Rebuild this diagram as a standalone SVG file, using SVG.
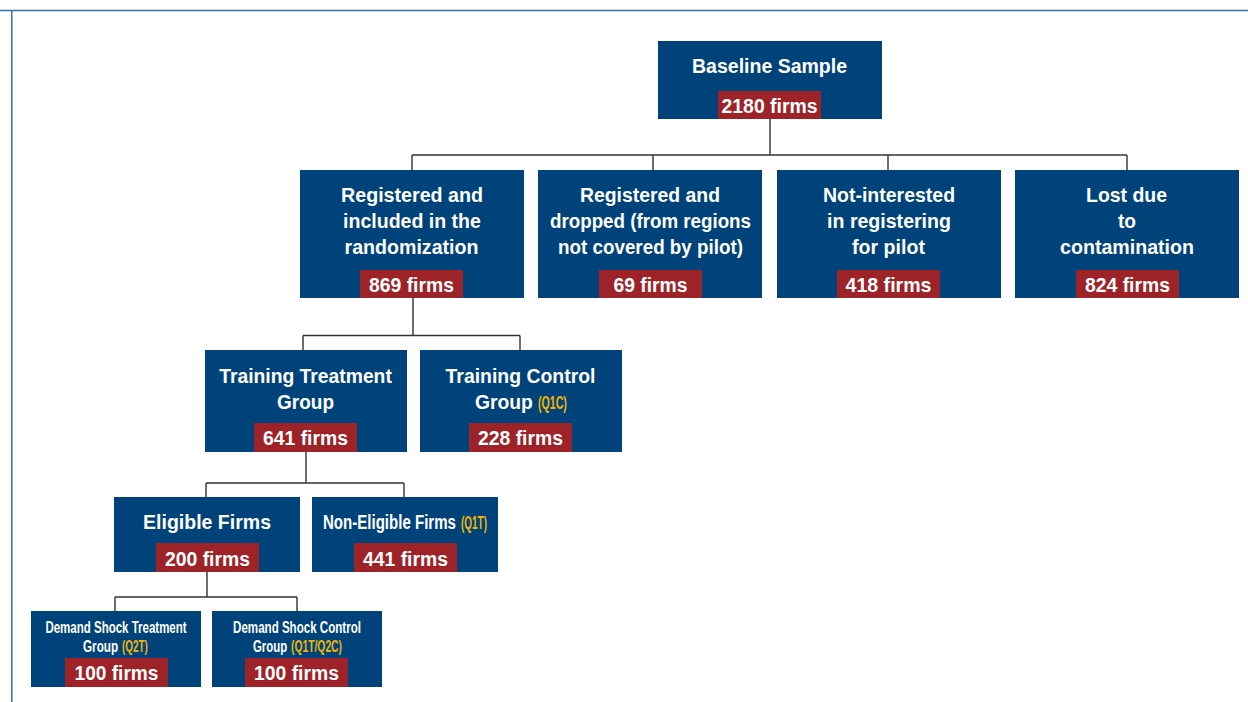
<svg xmlns="http://www.w3.org/2000/svg" width="1248" height="702" viewBox="0 0 1248 702">
<style>
.box{fill:#00437a}
.num{fill:#9d2329}
.t{font-family:"Liberation Sans",Arial,sans-serif;font-weight:bold;fill:#ffffff;font-size:21px}
.m{text-anchor:middle}
.s{font-size:17px}
.y{font-family:"Liberation Sans",Arial,sans-serif;font-weight:bold;fill:#f2b600;font-size:18px}
.ys{font-family:"Liberation Sans",Arial,sans-serif;font-weight:bold;fill:#f2b600;font-size:16px}
.c{fill:none;stroke:#333333;stroke-width:1.4}
.frame{fill:none;stroke:#3a6ea5;stroke-width:1.5}
</style>
<rect width="1248" height="702" fill="#ffffff"/>
<path class="frame" d="M0 10.5 H1248 M11.8 10 V702"/>
<g id="connectors">
<path class="c" d="M770 119 V155 M412 155 H1127 M412 155 V170 M653 155 V170 M888 155 V170 M1127 155 V170"/>
<path class="c" d="M413 298 V335.5 M303 335.5 H520 M303 335.5 V350 M520 335.5 V350"/>
<path class="c" d="M306 452 V483 M206 483 H404 M206 483 V497 M404 483 V497"/>
<path class="c" d="M207 572 V597 M115 597 H297 M115 597 V611 M297 597 V611"/>
</g>
<g id="baseline">
<rect class="box" x="658" y="41" width="224" height="78"/>
<rect class="num" x="718" y="91" width="103" height="28"/>
<text class="t m" transform="translate(769.5 73) scale(0.929 1)">Baseline Sample</text>
<text class="t m" transform="translate(769.5 113) scale(0.924 1)">2180 firms</text>
</g>
<g id="registered-included">
<rect class="box" x="300" y="170" width="224" height="128"/>
<rect class="num" x="360" y="270" width="103" height="28"/>
<text class="t m" transform="translate(412 202) scale(0.936 1)">Registered and</text>
<text class="t m" transform="translate(412 228) scale(0.931 1)">included in the</text>
<text class="t m" transform="translate(411.5 254) scale(0.934 1)">randomization</text>
<text class="t m" transform="translate(411.5 292) scale(0.922 1)">869 firms</text>
</g>
<g id="registered-dropped">
<rect class="box" x="538" y="170" width="224" height="128"/>
<rect class="num" x="599" y="270" width="103" height="28"/>
<text class="t m" transform="translate(650 202) scale(0.923 1)">Registered and</text>
<text class="t m" transform="translate(650.5 228) scale(0.893 1)">dropped (from regions</text>
<text class="t m" transform="translate(650.5 254) scale(0.896 1)">not covered by pilot)</text>
<text class="t m" transform="translate(650.5 292) scale(0.919 1)">69 firms</text>
</g>
<g id="not-interested">
<rect class="box" x="777" y="170" width="224" height="128"/>
<rect class="num" x="837" y="270" width="103" height="28"/>
<text class="t m" transform="translate(889 202) scale(0.928 1)">Not-interested</text>
<text class="t m" transform="translate(889 228) scale(0.932 1)">in registering</text>
<text class="t m" transform="translate(888.5 254) scale(0.934 1)">for pilot</text>
<text class="t m" transform="translate(888.5 292) scale(0.933 1)">418 firms</text>
</g>
<g id="lost-contamination">
<rect class="box" x="1015" y="170" width="224" height="128"/>
<rect class="num" x="1076" y="270" width="103" height="28"/>
<text class="t m" transform="translate(1126.5 202) scale(0.926 1)">Lost due</text>
<text class="t m" transform="translate(1127 228) scale(0.91 1)">to</text>
<text class="t m" transform="translate(1127 254) scale(0.934 1)">contamination</text>
<text class="t m" transform="translate(1127.5 292) scale(0.922 1)">824 firms</text>
</g>
<g id="training-treatment">
<rect class="box" x="205" y="350" width="202" height="102"/>
<rect class="num" x="254" y="423" width="103" height="29"/>
<text class="t m" transform="translate(305.5 383) scale(0.92 1)">Training Treatment</text>
<text class="t m" transform="translate(305.5 409) scale(0.905 1)">Group</text>
<text class="t m" transform="translate(305.5 445) scale(0.922 1)">641 firms</text>
</g>
<g id="training-control">
<rect class="box" x="420" y="350" width="202" height="102"/>
<rect class="num" x="469" y="423" width="103" height="29"/>
<text class="t m" transform="translate(520.5 383) scale(0.925 1)">Training Control</text>
<text class="t" transform="translate(475 409) scale(0.92 1)">Group</text>
<text class="y" transform="translate(538 409) scale(0.59 1)">(Q1C)</text>
<text class="t m" transform="translate(520.5 445) scale(0.922 1)">228 firms</text>
</g>
<g id="eligible">
<rect class="box" x="114" y="497" width="186" height="75"/>
<rect class="num" x="156" y="543" width="103" height="29"/>
<text class="t m" transform="translate(207 529) scale(0.93 1)">Eligible Firms</text>
<text class="t m" transform="translate(207.5 566) scale(0.922 1)">200 firms</text>
</g>
<g id="non-eligible">
<rect class="box" x="312" y="497" width="186" height="75"/>
<rect class="num" x="354" y="543" width="103" height="29"/>
<text class="t" transform="translate(323 529) scale(0.717 1)">Non-Eligible Firms</text>
<text class="y" transform="translate(461 529) scale(0.553 1)">(Q1T)</text>
<text class="t m" transform="translate(405.5 566) scale(0.922 1)">441 firms</text>
</g>
<g id="demand-treatment">
<rect class="box" x="31" y="611" width="170" height="76"/>
<rect class="num" x="65" y="658" width="103" height="29"/>
<text class="t s m" transform="translate(116 633) scale(0.677 1)">Demand Shock Treatment</text>
<text class="t s" transform="translate(83 652) scale(0.69 1)">Group</text>
<text class="ys" transform="translate(122 652) scale(0.62 1)">(Q2T)</text>
<text class="t m" transform="translate(116.5 680) scale(0.911 1)">100 firms</text>
</g>
<g id="demand-control">
<rect class="box" x="212" y="611" width="170" height="76"/>
<rect class="num" x="245" y="658" width="103" height="29"/>
<text class="t s m" transform="translate(297 633) scale(0.681 1)">Demand Shock Control</text>
<text class="t s" transform="translate(253 652) scale(0.67 1)">Group</text>
<text class="ys" transform="translate(291 652) scale(0.645 1)">(Q1T/Q2C)</text>
<text class="t m" transform="translate(296.5 680) scale(0.922 1)">100 firms</text>
</g>
</svg>
